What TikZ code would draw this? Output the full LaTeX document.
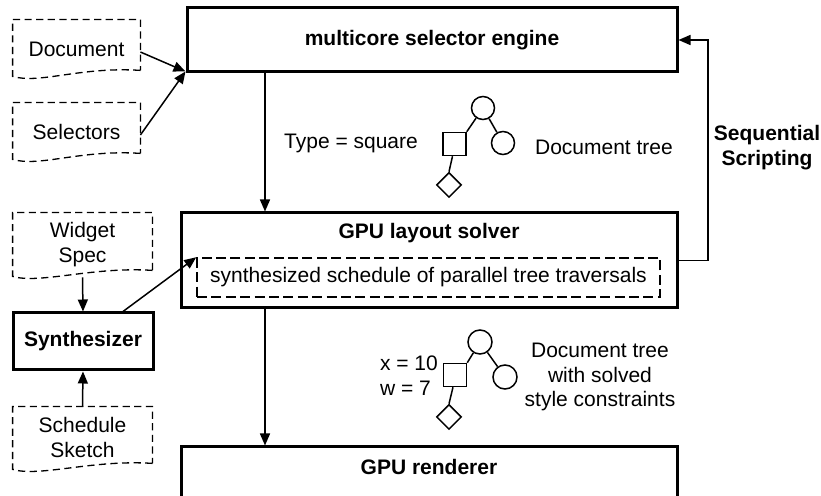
\documentclass[tikz,border=0pt]{standalone}
\usepackage{fontspec}
\setmainfont{Liberation Sans}
\usetikzlibrary{arrows.meta,shapes.geometric,calc}

% dashed "document" outline with a wavy lower edge, drawn around a named node
\newcommand\docshape[1]{%
  \draw[docline] (#1.south east)
    .. controls ($(#1.south east)+(-60,-4)$) and ($(#1.south west)+(27,14)$) ..
    ($(#1.south west)+(0,6)$) -- (#1.north west) -- (#1.north east) -- cycle;}

\begin{document}
\begin{tikzpicture}[x=0.5pt,y=-0.5pt,
  every node/.style={font=\fontsize{10.5pt}{12.4pt}\selectfont},
  title/.style={font=\fontsize{10.5pt}{12.4pt}\selectfont\bfseries},
  bigbox/.style={draw, line width=1.5pt, inner sep=0pt},
  docbox/.style={inner sep=0pt},
  docline/.style={line width=0.65pt, dash pattern=on 3.6pt off 2.2pt},
  conn/.style={line width=0.75pt, -{Triangle[length=6pt,width=5pt]}},
  tnode/.style={draw, line width=0.75pt, inner sep=0pt},
  tedge/.style={line width=0.75pt},
]
\useasboundingbox (0,0) rectangle (821,496);
\clip (0,0) rectangle (821,496);

% main pipeline boxes
\node[bigbox, title, minimum width=245pt, minimum height=32pt] (engine) at (432,40) {multicore selector engine};
\node[bigbox, minimum width=248pt, minimum height=47.5pt] (solver) at (429,260.5) {};
\node[title] (solvertitle) at (429,233) {GPU layout solver};
\node[draw, line width=0.75pt, dash pattern=on 5pt off 2.2pt, inner sep=0pt,
      minimum width=231.5pt, minimum height=19.5pt] (sched) at (428.5,277.5)
      {synthesized schedule of parallel tree traversals};
\node[bigbox, minimum width=248pt, minimum height=31pt] (renderer) at (429,478) {};
\node[title] (renderertitle) at (429,467) {GPU renderer};

% input documents
\node[docbox, minimum width=63.5pt, minimum height=25pt] (doc) at (76.5,45) {};
\node (doclabel) at (76.5,49) {Document};
\docshape{doc}
\node[docbox, minimum width=63.5pt, minimum height=25pt] (sel) at (76.5,128) {};
\node (sellabel) at (76.5,132) {Selectors};
\docshape{sel}
\node[docbox, minimum width=69.5pt, minimum height=28.5pt] (wspec) at (82.5,241.5) {};
\node[align=center] (wspeclabel) at (82.5,244.5) {Widget\\Spec};
\docshape{wspec}
\node[docbox, minimum width=69.5pt, minimum height=28pt] (ssketch) at (82.5,435) {};
\node[align=center] (ssketchlabel) at (82.5,437.5) {Schedule\\Sketch};
\docshape{ssketch}

\node[bigbox, title, minimum width=70pt, minimum height=28.5pt] (synth) at (83,341.5) {Synthesizer};

% document tree
\node[tnode, circle, minimum size=11.5pt] (t1a) at (483,108) {};
\node[tnode, circle, minimum size=11.5pt] (t1b) at (503,143) {};
\node[tnode, rectangle, minimum size=11.5pt] (t1s) at (454.5,144) {};
\node[tnode, diamond, minimum size=12.5pt] (t1d) at (449,185) {};
\draw[tedge] (t1s.north east) -- (t1a) (t1a) -- (t1b) ($(t1s.south)+(-2,0)$) -- (t1d.north);
\node (typelbl) at (351,143) {Type = square};
\node (tree1lbl) at (604,147) {Document tree};

% document tree with solved constraints
\node[tnode, circle, minimum size=12pt] (t2a) at (480,342) {};
\node[tnode, circle, minimum size=12pt] (t2b) at (505,377) {};
\node[tnode, rectangle, minimum size=11.5pt] (t2s) at (455,375) {};
\node[tnode, diamond, minimum size=12.5pt] (t2d) at (449,417) {};
\draw[tedge] (t2s.north east) -- (t2a) (t2a) -- (t2b) ($(t2s.south)+(-2,0)$) -- (t2d.north);
\node[align=left, anchor=west] (xw) at (373,375.5) {x = 10\\w = 7};
\node[align=center] (tree2lbl) at (600,377) {Document tree\\with solved\\style constraints};

\node[title, align=center] (seq) at (767,147.5) {Sequential\\Scripting};

% connectors
\coordinate (sx) at (265,0);
\coordinate (fb) at (708,0);
\draw[conn] (engine.south -| sx) -- (solver.north -| sx);
\draw[conn] (solver.south -| sx) -- (renderer.north -| sx);
\draw[conn] (solver.east) -- (solver.east -| fb) -- (engine.east -| fb) -- (engine.east);
\draw[conn] ($(doc.east)+(0,7)$) -- ($(engine.south west)+(0,-2)$);
\draw[conn] ($(sel.east)+(0,7)$) -- ($(engine.south west)+(0,-2)$);
\draw[conn] ($(wspec.south)+(0,7)$) -- (synth.north);
\draw[conn] (ssketch.north) -- (synth.south);
\draw[conn] ($(synth.north)+(40,0)$) -- (sched.north west);
\end{tikzpicture}
\end{document}
